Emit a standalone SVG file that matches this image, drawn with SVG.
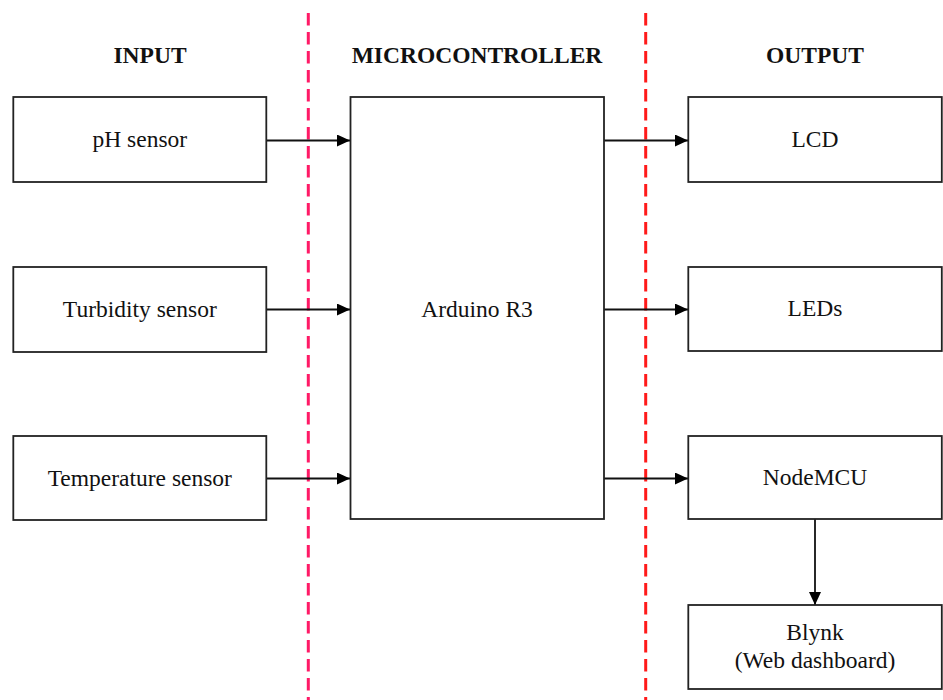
<svg xmlns="http://www.w3.org/2000/svg" width="943" height="700" viewBox="0 0 943 700">
<defs>
<marker id="ah" markerWidth="13" markerHeight="12" refX="13" refY="6" orient="auto" markerUnits="userSpaceOnUse">
<path d="M0,0 L13,6 L0,12 Z" fill="#000"/>
</marker>
<style>
.box{fill:#fff;stroke:#222;stroke-width:1.8}
.t{font-family:"Liberation Serif","Times New Roman",serif;font-size:23.5px;fill:#111;text-anchor:middle}
.h{font-weight:bold}
.c{stroke:#111;stroke-width:1.8;fill:none;marker-end:url(#ah)}
.d{stroke-width:3;stroke-dasharray:12.5 6.5;fill:none}
</style>
</defs>
<rect width="943" height="700" fill="#fff"/>
<g id="dividers">
<line class="d" x1="308.3" y1="13" x2="308.3" y2="700" stroke="#ff1a66"/>
<line class="d" x1="645.7" y1="13" x2="645.7" y2="700" stroke="#ff1a1a"/>
</g>
<g id="headers">
<text class="t h" x="150" y="63">INPUT</text>
<text class="t h" x="477" y="63">MICROCONTROLLER</text>
<text class="t h" x="815" y="63">OUTPUT</text>
</g>
<g id="connectors">
<line class="c" x1="266" y1="140.5" x2="350" y2="140.5"/>
<line class="c" x1="266" y1="309.5" x2="350" y2="309.5"/>
<line class="c" x1="266" y1="478.5" x2="350" y2="478.5"/>
<line class="c" x1="604" y1="140.5" x2="688" y2="140.5"/>
<line class="c" x1="604" y1="309.5" x2="688" y2="309.5"/>
<line class="c" x1="604" y1="478.5" x2="688" y2="478.5"/>
<line class="c" x1="815" y1="519" x2="815" y2="605"/>
</g>
<g id="ph"><rect class="box" x="13.3" y="97" width="253" height="85"/><text class="t" x="139.8" y="147">pH sensor</text></g>
<g id="turbidity"><rect class="box" x="13.3" y="267" width="253" height="85"/><text class="t" x="139.8" y="317">Turbidity sensor</text></g>
<g id="temperature"><rect class="box" x="13.3" y="436" width="253" height="84"/><text class="t" x="139.8" y="486">Temperature sensor</text></g>
<g id="arduino"><rect class="box" x="350.5" y="97" width="253.5" height="422"/><text class="t" x="477" y="317">Arduino R3</text></g>
<g id="lcd"><rect class="box" x="688.3" y="97" width="253.5" height="85"/><text class="t" x="815" y="147">LCD</text></g>
<g id="leds"><rect class="box" x="688.3" y="267" width="253.5" height="84"/><text class="t" x="815" y="316">LEDs</text></g>
<g id="nodemcu"><rect class="box" x="688.3" y="436" width="253.5" height="83"/><text class="t" x="815" y="485">NodeMCU</text></g>
<g id="blynk"><rect class="box" x="688.3" y="605" width="253.5" height="84"/><text class="t" x="815" y="640">Blynk</text><text class="t" x="815" y="668">(Web dashboard)</text></g>
</svg>
